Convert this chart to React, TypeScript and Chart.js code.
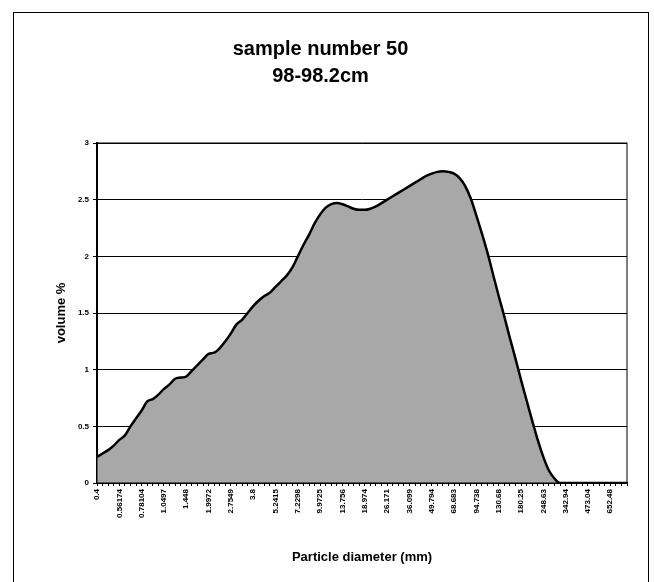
import React, { useEffect, useRef } from "react";
import { Chart, registerables } from "chart.js";

Chart.register(...registerables);

const titleLines = ["sample number 50", "98-98.2cm"];
const xTitle = "Particle diameter (mm)";
const yTitle = "volume %";

// labelled diameters (every 4th size class is labelled)
const tickLabels = [
  "0.4", "0.56174", "0.78104", "1.0497", "1.448", "1.9972", "2.7549", "3.8",
  "5.2415", "7.2298", "9.9725", "13.756", "18.974", "26.171", "36.099", "49.794",
  "68.683", "94.738", "130.68", "180.25", "248.63", "342.94", "473.04", "652.48",
];
const classesPerLabel = 4;

// volume % per size class (96 classes)
const volume = [
  0.23, 0.26, 0.29, 0.33, 0.38, 0.42, 0.5, 0.57, 0.64, 0.72,
  0.74, 0.78, 0.83, 0.87, 0.92, 0.93, 0.94, 0.99, 1.04, 1.09,
  1.14, 1.15, 1.19, 1.25, 1.32, 1.4, 1.44, 1.5, 1.56, 1.61,
  1.65, 1.68, 1.73, 1.78, 1.83, 1.9, 2.0, 2.1, 2.19, 2.29,
  2.37, 2.43, 2.46, 2.47, 2.46, 2.44, 2.42, 2.41, 2.41, 2.42,
  2.44, 2.47, 2.5, 2.53, 2.56, 2.59, 2.62, 2.65, 2.68, 2.71,
  2.73, 2.745, 2.75, 2.745, 2.73, 2.69, 2.62, 2.51, 2.36, 2.2,
  2.03, 1.84, 1.65, 1.47, 1.28, 1.1, 0.91, 0.73, 0.55, 0.38,
  0.23, 0.11, 0.04, 0, 0, 0, 0, 0, 0, 0,
  0, 0, 0, 0, 0, 0,
];

const yMin = 0;
const yMax = 3;
const yStep = 0.5;

const FONT = "'Liberation Sans', Arial, sans-serif";

export default function App() {
  const ref = useRef<HTMLCanvasElement | null>(null);

  useEffect(() => {
    if (!ref.current) return;
    const categories: string[] = [];
    tickLabels.forEach((t) => {
      categories.push(t);
      for (let j = 1; j < classesPerLabel; j++) categories.push("");
    });

    const frame = {
      id: "plotFrame",
      afterDatasetsDraw(chart: any) {
        const { ctx, chartArea } = chart;
        ctx.save();
        ctx.strokeStyle = "#000";
        ctx.lineWidth = 1;
        ctx.strokeRect(chartArea.left, chartArea.top, chartArea.right - chartArea.left, chartArea.bottom - chartArea.top);
        ctx.restore();
      },
    };

    const chart = new Chart(ref.current, {
      type: "line",
      data: {
        labels: categories,
        datasets: [
          {
            data: volume,
            borderColor: "#000",
            borderWidth: 2.5,
            backgroundColor: "#a8a8a8",
            fill: "origin",
            pointRadius: 0,
            cubicInterpolationMode: "monotone",
          },
        ],
      },
      options: {
        animation: false,
        responsive: false,
        devicePixelRatio: 1,
        layout: { padding: { left: 14, right: 27, top: 0, bottom: 0 } },
        plugins: {
          legend: { display: false },
          tooltip: { enabled: false },
          title: {
            display: true,
            text: titleLines,
            color: "#000",
            font: { family: FONT, size: 20, weight: "bold", lineHeight: 1.35 },
            padding: { top: 36, bottom: 53 },
          },
        },
        scales: {
          x: {
            type: "category",
            offset: false,
            afterFit: (s: any) => {
              s.height = 99;
            },
            grid: { drawOnChartArea: false, drawTicks: true, tickLength: 3, color: "#000" },
            border: { color: "#000", width: 1.5 },
            ticks: {
              autoSkip: false,
              minRotation: 90,
              maxRotation: 90,
              color: "#000",
              padding: 3,
              font: { family: FONT, size: 8, weight: "bold" },
            },
            title: {
              display: true,
              text: xTitle,
              color: "#000",
              font: { family: FONT, size: 13, weight: "bold" },
              padding: { top: 0, bottom: 17 },
            },
          },
          y: {
            min: yMin,
            max: yMax,
            afterFit: (s: any) => {
              s.width = 83;
            },
            grid: { color: "#000", lineWidth: 1, tickLength: 4 },
            border: { color: "#000", width: 2 },
            ticks: {
              stepSize: yStep,
              color: "#000",
              padding: 4,
              font: { family: FONT, size: 8, weight: "bold" },
              callback: (v: any) => String(Number(v)),
            },
            title: {
              display: true,
              text: yTitle,
              color: "#000",
              font: { family: FONT, size: 13, weight: "bold" },
              padding: { top: 40, bottom: 0 },
            },
          },
        },
      },
      plugins: [frame],
    });
    return () => chart.destroy();
  }, []);

  return (
    <div style={{ position: "absolute", left: 0, top: 0, width: 654, height: 582, background: "#fff", overflow: "hidden" }}>
      <canvas ref={ref} width={654} height={582} style={{ display: "block" }} />
      <div
        style={{
          position: "absolute",
          left: 13,
          top: 12,
          width: 634,
          height: 620,
          border: "1px solid #000",
          pointerEvents: "none",
        }}
      />
    </div>
  );
}
